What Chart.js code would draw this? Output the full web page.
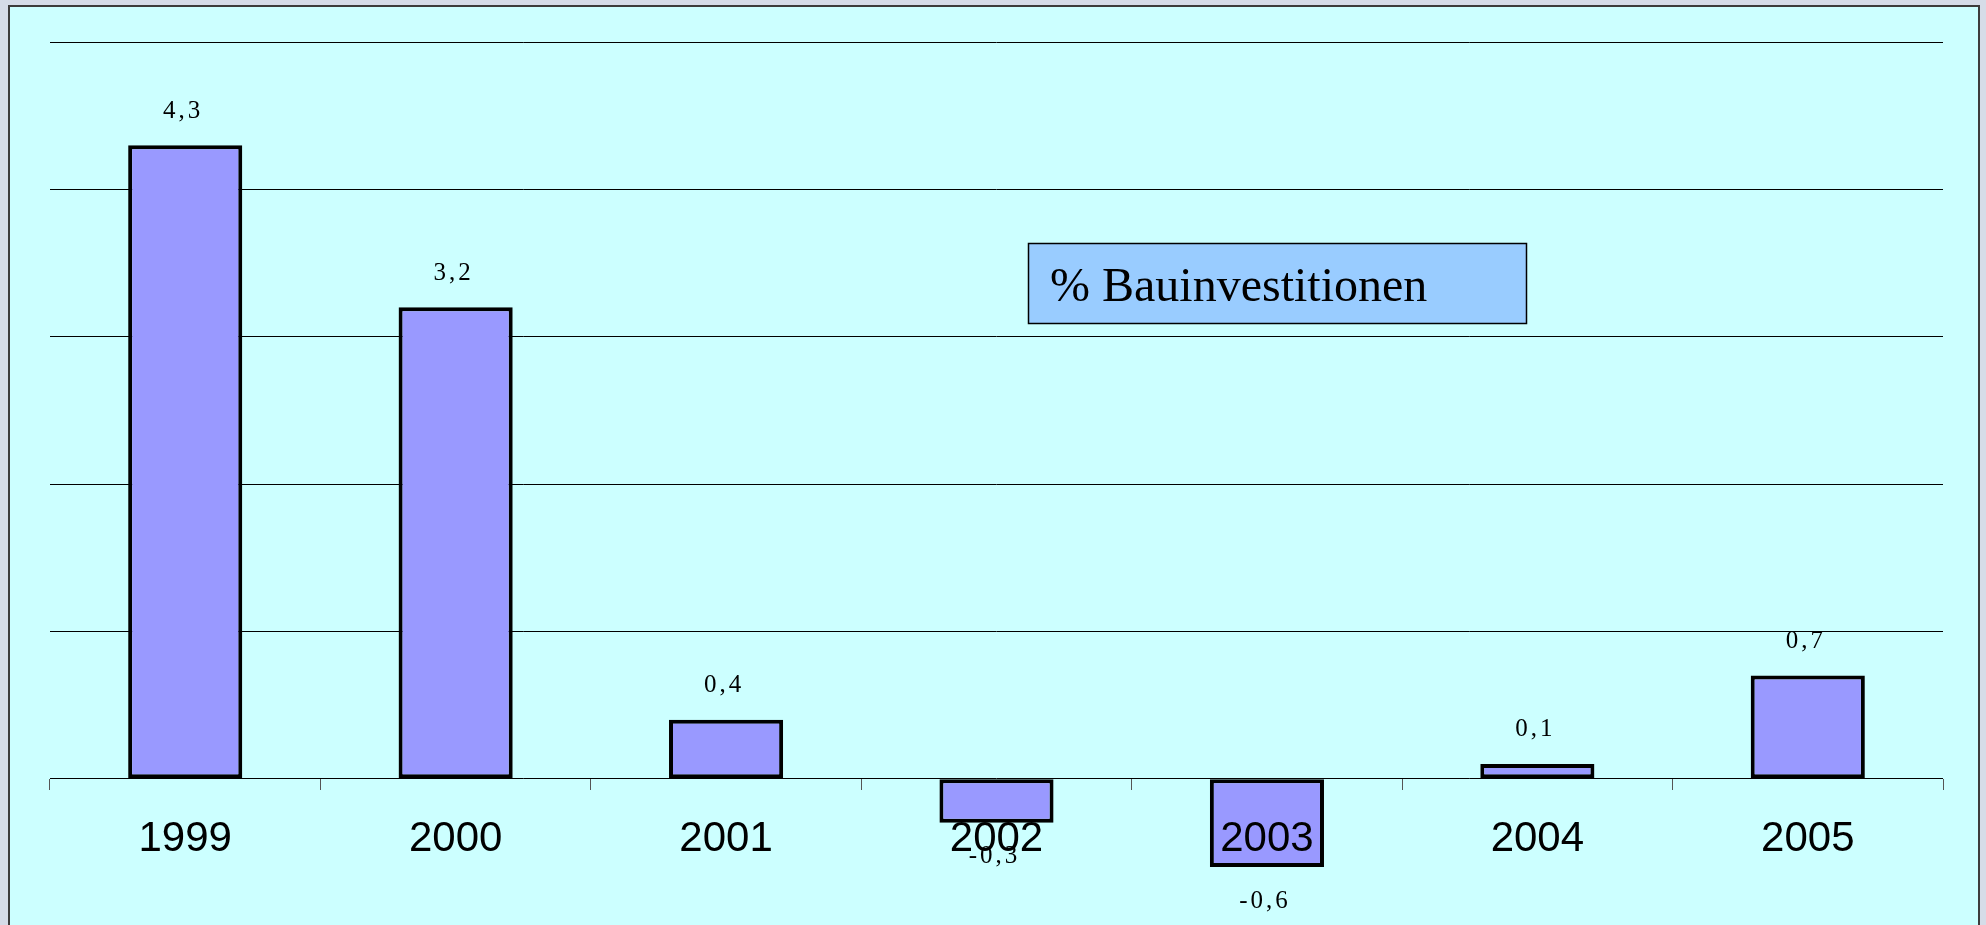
<!DOCTYPE html>
<html>
<head>
<meta charset="utf-8">
<script src="https://cdn.jsdelivr.net/npm/chart.js@4/dist/chart.umd.min.js"></script>
<style>
  html, body { margin: 0; padding: 0; background: #d5dce8; overflow: hidden; }
  #frame {
    position: absolute; left: 8px; top: 5px;
    width: 1968px; height: 940px;
    border: 2px solid #3c3c3c;
    background: #ccffff;
  }
  #chart { display: block; }
</style>
</head>
<body>
<div id="frame">
  <canvas id="chart" width="1968" height="930"></canvas>
</div>
<script>
// Data
const years = ['1999', '2000', '2001', '2002', '2003', '2004', '2005'];
const bauinvestitionen = [4.3, 3.2, 0.4, -0.3, -0.6, 0.1, 0.7];
const seriesLabel = '% Bauinvestitionen';
const yMin = -1;
const yMax = 5;
const yStep = 1;

// value labels above / below each bar, German decimal comma
const valueLabels = {
    id: 'valueLabels',
    afterDraw(chart) {
        const ctx = chart.ctx;
        const meta = chart.getDatasetMeta(0);
        const data = chart.data.datasets[0].data;
        ctx.save();
        ctx.font = '25px "Liberation Serif", "Times New Roman", serif';
        ctx.fillStyle = '#000';
        ctx.textAlign = 'center';
        ctx.textBaseline = 'middle';
        ctx.letterSpacing = '3px';
        meta.data.forEach((bar, i) => {
            const v = data[i];
            const y = v >= 0 ? bar.y - 34 : bar.y + 34;
            ctx.fillText(String(v).replace('.', ','), bar.x - 2, y);
        });
        ctx.restore();
    }
};

// boxed legend text inside the plot, as in the original
const boxLegend = {
    id: 'boxLegend',
    afterDraw(chart) {
        const ctx = chart.ctx;
        const x = 1018, y = 236, w = 498, h = 80;
        ctx.save();
        ctx.fillStyle = '#99ccff';
        ctx.fillRect(x, y, w, h);
        ctx.strokeStyle = '#000';
        ctx.lineWidth = 1.5;
        ctx.strokeRect(x + 0.5, y + 0.5, w, h);
        ctx.font = '48px "Liberation Serif", "Times New Roman", serif';
        ctx.fillStyle = '#000';
        ctx.textBaseline = 'alphabetic';
        ctx.fillText(chart.data.datasets[0].label, x + 22, y + 58);
        ctx.restore();
    }
};

new Chart(document.getElementById('chart'), {
    type: 'bar',
    data: {
        labels: years,
        datasets: [{
            label: seriesLabel,
            data: bauinvestitionen,
            backgroundColor: '#9999ff',
            borderColor: '#000',
            borderWidth: 4,
            borderSkipped: false,
            categoryPercentage: 1,
            barPercentage: 0.422
        }]
    },
    options: {
        responsive: false,
        animation: false,
        layout: { padding: { left: 40, right: 35, top: 35, bottom: 11 } },
        plugins: {
            legend: { display: false },
            tooltip: { enabled: false }
        },
        scales: {
            x: {
                position: { y: 0 },
                border: { display: false },
                grid: {
                    drawOnChartArea: false,
                    drawTicks: true,
                    tickLength: 11,
                    color: '#555'
                },
                ticks: {
                    z: 1,
                    color: '#000',
                    padding: 25,
                    font: { family: '"Liberation Sans", Arial, sans-serif', size: 42, lineHeight: 1.2 }
                }
            },
            y: {
                min: yMin,
                max: yMax,
                border: { display: false },
                grid: { color: '#000', lineWidth: 1, drawTicks: false },
                ticks: { display: false, stepSize: yStep }
            }
        }
    },
    plugins: [valueLabels, boxLegend]
});
</script>
</body>
</html>
